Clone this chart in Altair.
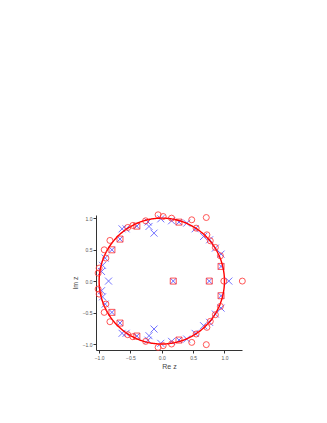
import altair as alt
import numpy as np
import pandas as pd

# Zeros (red circles) - upper half, real axis, lower half
zeros_re = [-1.016, -1.0, -0.892, -0.919, -0.828, -0.543, -0.462, -0.258, -0.059, 0.022, 0.156, 0.478, 0.71, 0.548, 0.72, 0.774, 0.855, 0.935,
            0.99, 1.285,
            -1.016, -1.0, -0.892, -0.919, -0.828, -0.543, -0.462, -0.258, -0.059, 0.022, 0.156, 0.478, 0.71, 0.548, 0.72, 0.774, 0.855, 0.935]
zeros_im = [0.127, 0.206, 0.365, 0.497, 0.646, 0.852, 0.884, 0.958, 1.053, 1.026, 1.0, 0.974, 1.01, 0.841, 0.735, 0.64, 0.534, 0.402,
            0.0, 0.0,
            -0.127, -0.206, -0.365, -0.497, -0.646, -0.852, -0.884, -0.958, -1.053, -1.026, -1.0, -0.974, -1.01, -0.841, -0.735, -0.64, -0.534, -0.402]

# Poles (blue crosses)
poles_re = [-0.962, -0.946, -0.903, -0.634, -0.57, -0.22, -0.204, -0.124, -0.016, 0.156, 0.398, 0.532, 0.667, 0.763, 0.855, 0.946,
            -0.85, 1.07,
            -0.962, -0.946, -0.903, -0.634, -0.57, -0.22, -0.204, -0.124, -0.016, 0.156, 0.398, 0.532, 0.667, 0.763, 0.855, 0.946]
poles_im = [0.153, 0.25, 0.365, 0.83, 0.83, 0.94, 0.868, 0.762, 0.989, 0.958, 0.921, 0.831, 0.709, 0.656, 0.524, 0.429,
            0.0, 0.0,
            -0.153, -0.25, -0.365, -0.83, -0.83, -0.94, -0.868, -0.762, -0.989, -0.958, -0.921, -0.831, -0.709, -0.656, -0.524, -0.429]

# Coincident pole/zero pairs (square with cross)
both_re = [-0.796, -0.667, -0.398, 0.274, 0.946, 0.183, 0.758, -0.796, -0.667, -0.398, 0.274, 0.946]
both_im = [0.497, 0.667, 0.873, 0.937, 0.233, 0.0, 0.0, -0.497, -0.667, -0.873, -0.937, -0.233]

tick_vals = [-1.0, -0.5, 0.0, 0.5, 1.0]

# unit circle |z| = 1
t = np.linspace(0, 2 * np.pi, 361)
circle_df = pd.DataFrame({"re": np.cos(t), "im": np.sin(t), "o": np.arange(len(t))})

zeros_df = pd.DataFrame({"re": zeros_re, "im": zeros_im})
poles_df = pd.DataFrame({"re": poles_re, "im": poles_im})
both_df = pd.DataFrame({"re": both_re, "im": both_im})

xs = alt.Scale(domain=[-1.05, 1.28], nice=False, zero=False)
ys = alt.Scale(domain=[-1.095, 1.05], nice=False, zero=False)

xax = alt.Axis(values=tick_vals, format=".1f", title="Re z", grid=False, tickSize=3,
               labelFontSize=5, labelColor="#555555", titleFontSize=7, titleColor="#444444",
               titleFontWeight="normal", titlePadding=2, labelPadding=2,
               domainColor="#333333", tickColor="#333333", labelFont="Liberation Sans", titleFont="Liberation Sans")
yax = alt.Axis(values=tick_vals, format=".1f", title="Im z", grid=False, tickSize=3,
               labelFontSize=5, labelColor="#555555", titleFontSize=7, titleColor="#444444",
               titleFontWeight="normal", titlePadding=4, labelPadding=1,
               domainColor="#333333", tickColor="#333333", labelFont="Liberation Sans", titleFont="Liberation Sans")

X = lambda: alt.X("re:Q", scale=xs, axis=xax)
Y = lambda: alt.Y("im:Q", scale=ys, axis=yax)

cross_path = "M-1,-1L1,1M1,-1L-1,1"

poles = alt.Chart(poles_df).mark_point(shape=cross_path, size=49, color="#4a4aff", strokeWidth=0.9,
                                       filled=False, opacity=0.85).encode(x=X(), y=Y())
both_x = alt.Chart(both_df).mark_point(shape=cross_path, size=36, color="#4a4aff", strokeWidth=0.9,
                                       filled=False, opacity=0.9).encode(x=X(), y=Y())
both_sq = alt.Chart(both_df).mark_point(shape="square", size=36, color="#ff3030", strokeWidth=0.9,
                                        filled=False, opacity=0.9).encode(x=X(), y=Y())
unit = alt.Chart(circle_df).mark_line(color="#ff0000", strokeWidth=1.4).encode(x=X(), y=Y(), order="o:Q")
zeros = alt.Chart(zeros_df).mark_point(shape="circle", size=36, color="#ff3030", strokeWidth=0.9,
                                       filled=False, opacity=0.9).encode(x=X(), y=Y())

chart = alt.layer(poles, both_x, both_sq, unit, zeros).properties(
    width=146, height=135,
    background="white",
    autosize=alt.AutoSizeParams(type="none"),
    padding={"left": 88, "top": 207, "right": 60, "bottom": 60},
).configure_view(strokeWidth=0, stroke="transparent")

chart.save("out.html", embed_options={"renderer": "svg", "actions": False})
